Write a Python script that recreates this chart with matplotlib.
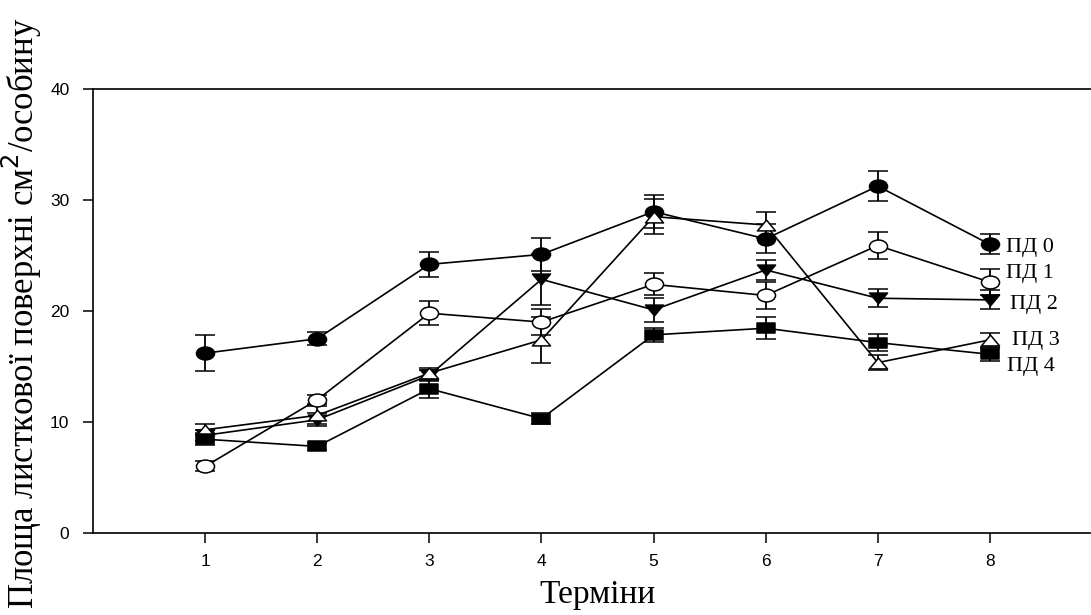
import numpy as np
import matplotlib
matplotlib.use('Agg')
import matplotlib.pyplot as plt
from matplotlib.path import Path
from matplotlib.transforms import Affine2D

# Дані: площа листкової поверхні по термінах
terminy = [1, 2, 3, 4, 5, 6, 7, 8]
pd0 = [16.2, 17.5, 24.2, 25.1, 28.95, 26.5, 31.25, 26.0]
pd0_err = [1.6, 0.6, 1.15, 1.5, 1.5, 1.3, 1.35, 0.9]
pd1 = [6.0, 12.0, 19.8, 19.0, 22.4, 21.4, 25.9, 22.6]
pd1_err = [0.45, 0.4, 1.1, 1.2, 1.0, 1.2, 1.2, 1.2]
pd2 = [8.8, 10.2, 14.2, 22.85, 20.1, 23.7, 21.15, 21.0]
pd2_err = [0.5, 0.6, 0.5, 2.3, 1.05, 0.9, 0.8, 0.85]
pd3 = [9.3, 10.6, 14.4, 17.4, 28.5, 27.75, 15.35, 17.4]
pd3_err = [0.5, 0.8, 0.5, 2.1, 1.6, 1.2, 0.7, 0.6]
pd4 = [8.45, 7.8, 13.0, 10.3, 17.85, 18.45, 17.15, 16.1]
pd4_err = [0.55, 0.3, 0.8, 0.5, 0.6, 1.0, 0.75, 0.6]
nazvy = ['ПД 0', 'ПД 1', 'ПД 2', 'ПД 3', 'ПД 4']

# маркери трохи розтягнуті по горизонталі, як в оригіналі
elips = Path.unit_circle().transformed(Affine2D().scale(1.4, 1.0))
tri_down = Path([(-1, 0.6), (1, 0.6), (0, -0.6), (-1, 0.6)],
                [Path.MOVETO, Path.LINETO, Path.LINETO, Path.CLOSEPOLY])
tri_up = Path([(-1, -0.6), (1, -0.6), (0, 0.6), (-1, -0.6)],
              [Path.MOVETO, Path.LINETO, Path.LINETO, Path.CLOSEPOLY])
kvadrat = Path([(-1, -0.6), (1, -0.6), (1, 0.6), (-1, 0.6), (-1, -0.6)],
               [Path.MOVETO, Path.LINETO, Path.LINETO, Path.LINETO, Path.CLOSEPOLY])

fig = plt.figure(figsize=(10.91, 6.15), dpi=100)
fig.patch.set_facecolor('white')
ax = fig.add_axes([93/1091, 82/615, 1009/1091, 444/615])

serii = [
    (pd0, pd0_err, elips, 'black'),
    (pd1, pd1_err, elips, 'white'),
    (pd2, pd2_err, tri_down, 'black'),
    (pd3, pd3_err, tri_up, 'white'),
    (pd4, pd4_err, kvadrat, 'black'),
]
for y, e, m, fc in serii:
    ax.errorbar(terminy, y, yerr=e, color='black', lw=1.2, marker=m,
                markersize=13, mfc=fc, mec='black', mew=1.1,
                capsize=7.5, capthick=1.3, elinewidth=1.3)

# підписи серій праворуч
pos_label = [(8.14, 25.7), (8.14, 23.4), (8.18, 20.6), (8.2, 17.3), (8.15, 15.0)]
for (tx, ty), s in zip(pos_label, nazvy):
    ax.text(tx, ty, s, fontsize=16, family='Liberation Serif', va='center', ha='left')

ax.set_xlim(0, 9)
ax.set_ylim(0, 40)
ax.set_xticks(terminy)
ax.set_yticks([0, 10, 20, 30, 40])
ax.spines['right'].set_visible(False)
for sp in ['left', 'bottom', 'top']:
    ax.spines[sp].set_linewidth(1.2)
ax.tick_params(direction='out', length=7, width=1.1, labelsize=12.5)
ax.tick_params(axis='y', pad=10)
ax.tick_params(axis='x', pad=8)
for lab in ax.get_xticklabels() + ax.get_yticklabels():
    lab.set_family('Liberation Sans')

ax.set_xlabel('Терміни', fontsize=24, family='Liberation Serif', labelpad=8)
fig.text(22/1091, 1 - 609/615, 'Площа листкової поверхні см$^2$/особину',
         fontsize=25, family='Liberation Serif', rotation=90,
         rotation_mode='anchor', ha='left', va='center')

plt.savefig('out.png', dpi=100, facecolor='white')
